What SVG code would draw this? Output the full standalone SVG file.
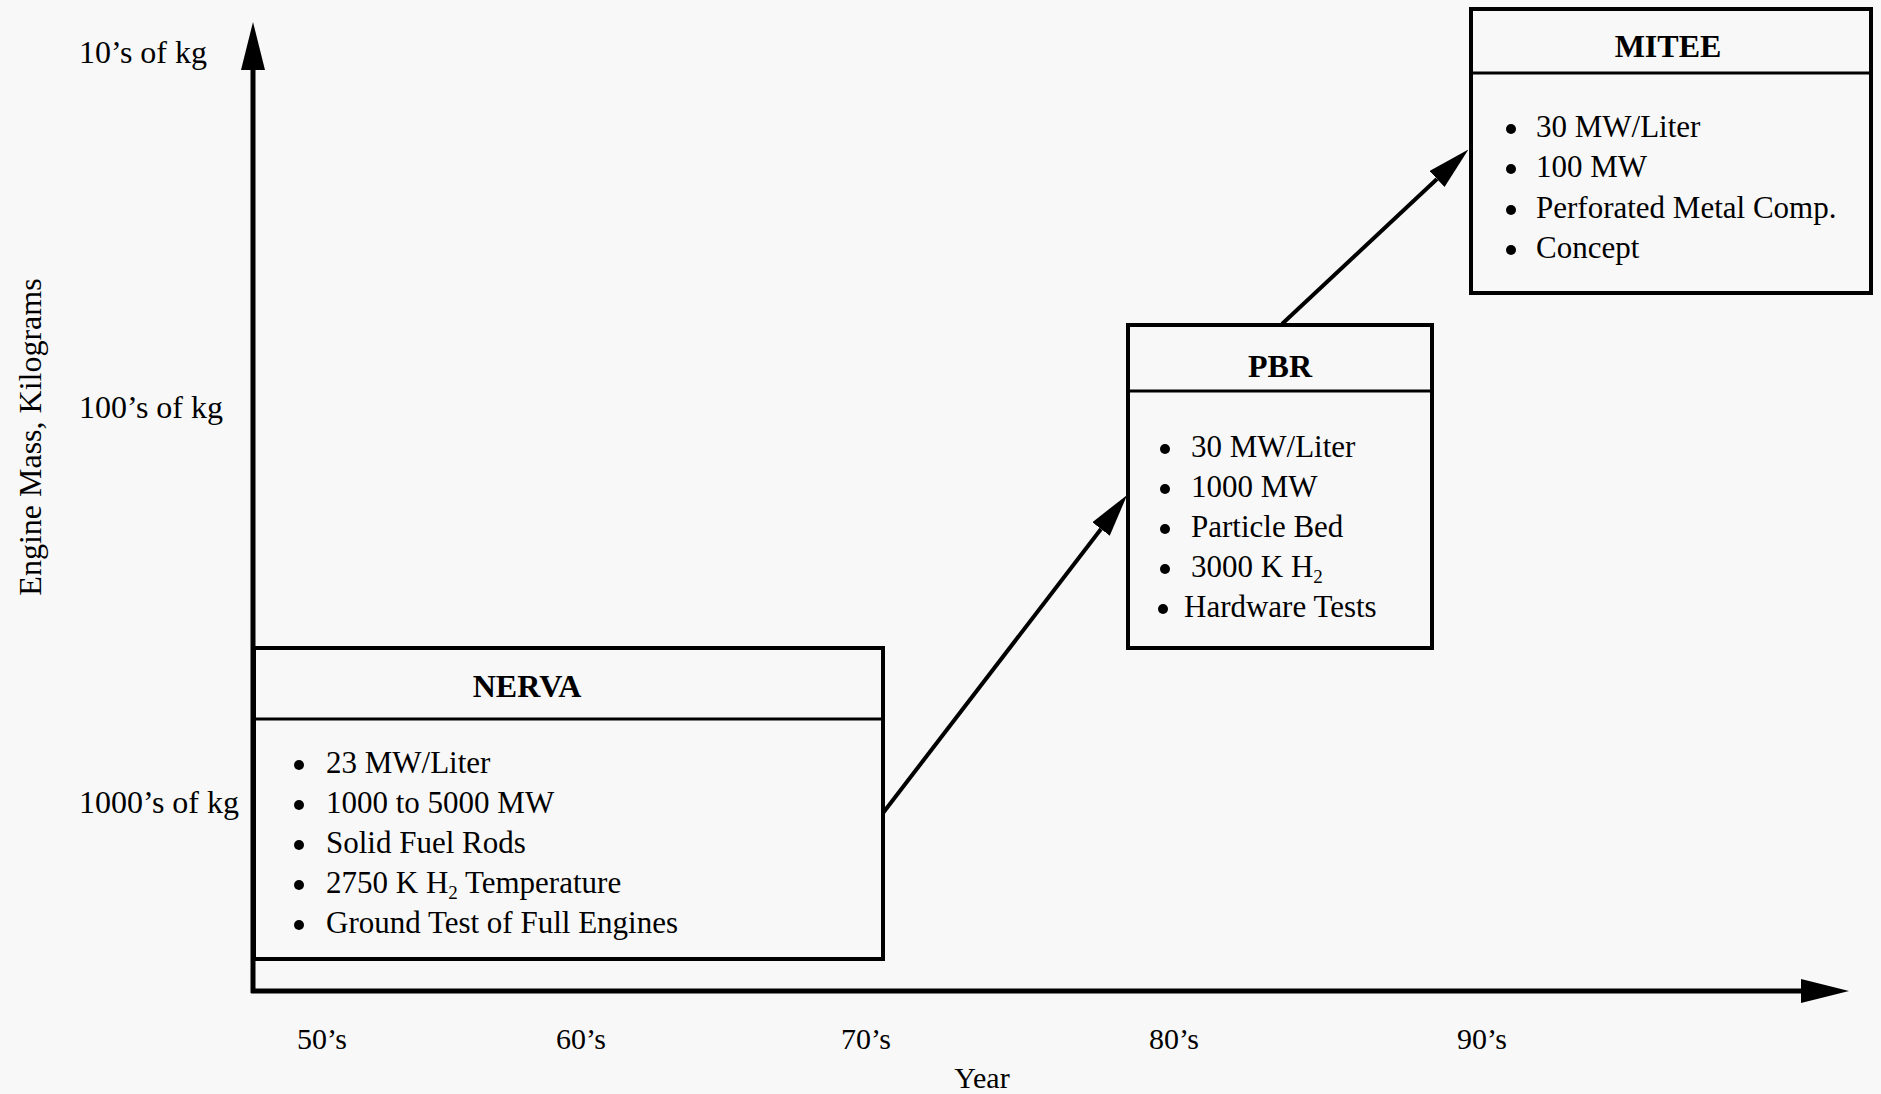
<svg xmlns="http://www.w3.org/2000/svg" width="1881" height="1094" viewBox="0 0 1881 1094">
<style>
text{font-family:"Liberation Serif","Times New Roman",serif;fill:#000;font-size:31px}
.title{font-weight:bold;text-anchor:middle;font-size:32px}
.lab{text-anchor:middle;font-size:30px}
.ylab{font-size:32px}
.box{fill:none;stroke:#000;stroke-width:4}
.div{stroke:#000;stroke-width:3}
.axis{stroke:#000;stroke-width:5;fill:none}
.conn{stroke:#000;stroke-width:4;fill:none}
.bul{fill:#000}
</style>
<defs>
<marker id="axisHead" markerWidth="48" markerHeight="24" refX="0" refY="12" orient="auto" markerUnits="userSpaceOnUse"><path d="M0,0 L48,12 L0,24 z" fill="#000"/></marker>
<marker id="connHead" markerWidth="43" markerHeight="22" refX="0" refY="11" orient="auto" markerUnits="userSpaceOnUse"><path d="M0,0 L43,11 L0,22 z" fill="#000"/></marker>
</defs>
<rect width="1881" height="1094" fill="#f8f8f8"/>

<g id="axes">
<line class="axis" x1="253" y1="993" x2="253" y2="70" marker-end="url(#axisHead)"/>
<line class="axis" x1="251" y1="991" x2="1801" y2="991" marker-end="url(#axisHead)"/>
<text class="ylab" x="79" y="63">10’s of kg</text>
<text class="ylab" x="79" y="418">100’s of kg</text>
<text class="ylab" x="79" y="813">1000’s of kg</text>
<text class="lab" transform="translate(41,437) rotate(-90)" style="font-size:32px">Engine Mass, Kilograms</text>
<text class="lab" x="322" y="1049">50’s</text>
<text class="lab" x="581" y="1049">60’s</text>
<text class="lab" x="866" y="1049">70’s</text>
<text class="lab" x="1174" y="1049">80’s</text>
<text class="lab" x="1482" y="1049">90’s</text>
<text class="lab" x="982" y="1088">Year</text>
</g>

<g id="connectors">
<line class="conn" x1="883" y1="813" x2="1101" y2="529" marker-end="url(#connHead)"/>
<line class="conn" x1="1282" y1="324" x2="1437" y2="179" marker-end="url(#connHead)"/>
</g>

<g id="nerva">
<rect class="box" x="254" y="648" width="629" height="311"/>
<line class="div" x1="254" y1="719" x2="883" y2="719"/>
<text class="title" x="527" y="697">NERVA</text>
<circle class="bul" cx="299" cy="765" r="5"/>
<circle class="bul" cx="299" cy="805" r="5"/>
<circle class="bul" cx="299" cy="845" r="5"/>
<circle class="bul" cx="299" cy="885" r="5"/>
<circle class="bul" cx="299" cy="925" r="5"/>
<text x="326" y="773">23 MW/Liter</text>
<text x="326" y="813">1000 to 5000 MW</text>
<text x="326" y="853">Solid Fuel Rods</text>
<text x="326" y="893">2750 K H<tspan font-size="19" dy="6">2</tspan><tspan dy="-6"> Temperature</tspan></text>
<text x="326" y="933">Ground Test of Full Engines</text>
</g>

<g id="pbr">
<rect class="box" x="1128" y="325" width="304" height="323"/>
<line class="div" x1="1128" y1="391" x2="1432" y2="391"/>
<text class="title" x="1280" y="377">PBR</text>
<circle class="bul" cx="1165" cy="449" r="5"/>
<circle class="bul" cx="1165" cy="489" r="5"/>
<circle class="bul" cx="1165" cy="529" r="5"/>
<circle class="bul" cx="1165" cy="569" r="5"/>
<circle class="bul" cx="1163" cy="609" r="5"/>
<text x="1191" y="457">30 MW/Liter</text>
<text x="1191" y="497">1000 MW</text>
<text x="1191" y="537">Particle Bed</text>
<text x="1191" y="577">3000 K H<tspan font-size="19" dy="6">2</tspan></text>
<text x="1184" y="617">Hardware Tests</text>
</g>

<g id="mitee">
<rect class="box" x="1471" y="9" width="400" height="284"/>
<line class="div" x1="1471" y1="73" x2="1871" y2="73"/>
<text class="title" x="1668" y="57">MITEE</text>
<circle class="bul" cx="1511" cy="129" r="5"/>
<circle class="bul" cx="1511" cy="169" r="5"/>
<circle class="bul" cx="1511" cy="210" r="5"/>
<circle class="bul" cx="1511" cy="250" r="5"/>
<text x="1536" y="137">30 MW/Liter</text>
<text x="1536" y="177">100 MW</text>
<text x="1536" y="218">Perforated Metal Comp.</text>
<text x="1536" y="258">Concept</text>
</g>
</svg>
